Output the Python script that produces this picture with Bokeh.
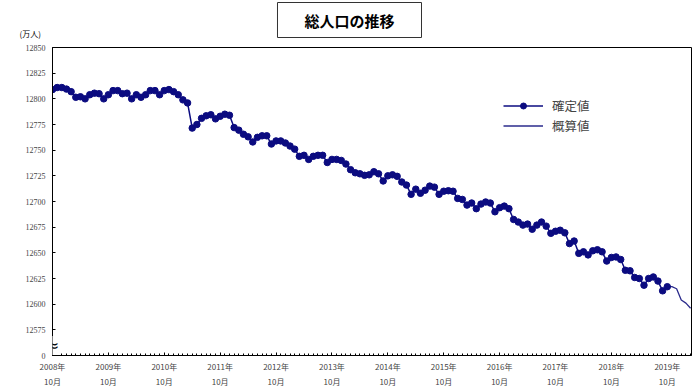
from bokeh.plotting import figure
from bokeh.models import Range1d, FixedTicker, Label, Legend, LegendItem
from bokeh.layouts import column
from bokeh.embed import file_html
from bokeh.resources import INLINE

# ---- data (万人), monthly from 2008-10 ----
confirmed_month = list(range(0, 133))
confirmed = [
    12809, 12811, 12811, 12809.5, 12807, 12801.5, 12802, 12800, 12804, 12805.5,
    12805, 12800, 12804, 12808, 12808, 12805, 12805.5, 12800, 12804, 12801.5,
    12804, 12808, 12808, 12804, 12808, 12809, 12807, 12804, 12799, 12796,
    12771.5, 12775, 12781, 12783.5, 12784.5, 12780.5, 12783, 12785, 12784, 12772,
    12769.5, 12765.5, 12763, 12758, 12762.5, 12764, 12764, 12756, 12759, 12759,
    12757, 12754, 12751, 12744, 12745, 12741, 12744, 12745, 12745, 12738,
    12741, 12741, 12740, 12736.5, 12731, 12728, 12727, 12725.5, 12726, 12729,
    12727, 12720, 12725, 12726, 12724.5, 12719, 12716, 12707, 12712, 12708,
    12711, 12715, 12714, 12707, 12710, 12710.5, 12710, 12703, 12702, 12696.5,
    12698.5, 12693, 12697.5, 12699.5, 12698.5, 12690, 12694, 12695.5, 12693, 12682.5,
    12680, 12677, 12678, 12673, 12677, 12680, 12676, 12669, 12671, 12672,
    12669.5, 12659, 12661.5, 12649.5, 12651, 12648, 12652, 12653, 12651, 12642,
    12645.5, 12646, 12643.5, 12633, 12632.5, 12626, 12625, 12618.5, 12625, 12626.5,
    12622.5, 12613, 12617,
]
estimate_month = [132, 133, 134, 135, 136, 137]
estimate = [12617, 12617, 12615, 12604, 12601, 12596]

year_tick_months = list(range(0, 133, 12))
year_tick_labels = [f"{2008 + k}年\n10月" for k in range(len(year_tick_months))]
y_ticks = [12550, 12575, 12600, 12625, 12650, 12675, 12700, 12725, 12750, 12775, 12800, 12825, 12850]
y_tick_labels = ["0"] + [str(v) for v in y_ticks[1:]]

NAVY = "#0B0B80"
JP = "Noto Sans CJK JP"

# ---- header strip (title box and unit) ----
head = figure(width=699, height=41, output_backend="svg", toolbar_location=None,
              x_range=Range1d(0, 699), y_range=Range1d(0, 41),
              x_axis_location=None, y_axis_location=None,
              min_border_left=0, min_border_right=0, min_border_top=0, min_border_bottom=0)
head.frame_align = False
head.outline_line_color = None
head.xgrid.visible = False
head.ygrid.visible = False
head.add_layout(Label(x=349, y=21.5, text="総人口の推移",
                      text_font=JP, text_font_style="bold", text_font_size="15px",
                      text_align="center", text_baseline="middle", text_color="black",
                      border_line_color="#333333", border_line_width=1,
                      background_fill_color="white", padding=(27, 7)))
head.add_layout(Label(x=19, y=8, text="(万人)",
                      text_font=JP, text_font_size="8px", text_align="left",
                      text_baseline="middle", text_color="black"))

# ---- main chart ----
p = figure(width=699, height=349, output_backend="svg", toolbar_location=None,
           x_range=Range1d(0, 137.2), y_range=Range1d(12550, 12850),
           min_border_left=52, min_border_right=8, min_border_top=6, min_border_bottom=35)
p.frame_align = False
p.background_fill_color = "white"
p.border_fill_color = "white"
p.outline_line_color = "black"
p.outline_line_width = 1
p.xgrid.visible = False
p.ygrid.visible = False

p.xaxis.ticker = FixedTicker(ticks=year_tick_months, minor_ticks=list(range(0, 138)))
p.xaxis.major_label_overrides = {m: l for m, l in zip(year_tick_months, year_tick_labels)}
p.xaxis.major_label_text_font = JP
p.xaxis.major_label_text_font_size = "8px"
p.xaxis.major_label_text_line_height = 1.45
p.xaxis.major_label_standoff = 5
p.xaxis.major_tick_in = 3
p.xaxis.major_tick_out = 0
p.xaxis.minor_tick_in = 2
p.xaxis.minor_tick_out = 0
p.xaxis.axis_line_color = "black"

p.yaxis.ticker = FixedTicker(ticks=y_ticks)
p.yaxis.major_label_overrides = {t: l for t, l in zip(y_ticks, y_tick_labels)}
p.yaxis.major_label_text_font = "Liberation Serif"
p.yaxis.major_label_text_font_size = "8px"
p.yaxis.major_label_standoff = 7
p.yaxis.major_tick_in = 3
p.yaxis.major_tick_out = 0
p.yaxis.minor_tick_line_color = None
p.yaxis.axis_line_color = "black"

est_line = p.line(estimate_month, estimate, line_color="#2B2B8C", line_width=1.3)
conf_line = p.line(confirmed_month, confirmed, line_color=NAVY, line_width=1.5)
conf_pts = p.scatter(confirmed_month, confirmed, size=6.5, marker="circle",
                     fill_color=NAVY, line_color=NAVY)

legend = Legend(items=[LegendItem(label="確定値", renderers=[conf_line, conf_pts]),
                       LegendItem(label="概算値", renderers=[est_line])],
                location=(451, 220), orientation="vertical")
legend.label_text_font = JP
legend.label_text_font_size = "12.5px"
legend.glyph_width = 40
legend.glyph_height = 15
legend.label_height = 15
legend.spacing = 1
legend.padding = 0
legend.margin = 0
legend.label_standoff = 9
legend.border_line_color = None
legend.background_fill_alpha = 0
p.add_layout(legend, "center")

# axis break mark
p.add_layout(Label(x=0, y=10, x_units="screen", y_units="screen", text="≈",
                   text_font="DejaVu Sans", text_font_size="16px", text_align="center",
                   text_baseline="middle", text_color="black",
                   background_fill_color="white", padding=0))

open("out.html", "w").write(file_html(column(head, p, spacing=0), INLINE))
